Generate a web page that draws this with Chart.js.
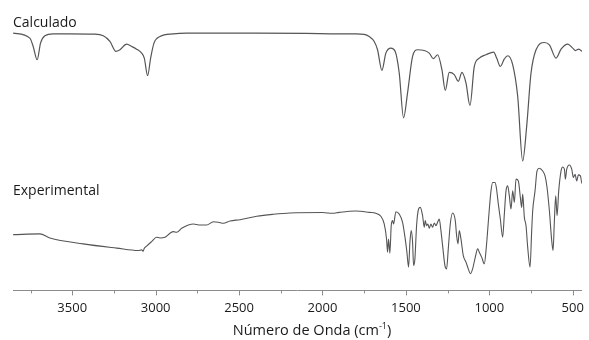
<!DOCTYPE html>
<html>
<head>
<meta charset="utf-8">
<script src="https://cdn.jsdelivr.net/npm/chart.js@4/dist/chart.umd.min.js"></script>
<style>
  html, body { margin: 0; padding: 0; background: #fff; }
  #wrap { width: 589px; height: 340px; position: relative; }
</style>
</head>
<body>
<div id="wrap"><canvas id="myChart"></canvas></div>
<script>
'use strict';

/***** DATA *****/
// wavenumbers (cm-1) and relative transmittance
var calcWave = [3854, 3754, 3734, 3710, 3690, 3664, 3614, 3514, 3374, 3314, 3274, 3238, 3214, 3174, 3144, 3114, 3084, 3068, 3048, 3030, 3010, 2974, 2894, 2814, 2400, 2100, 1900, 1800, 1750, 1720, 1690, 1670, 1644, 1620, 1590, 1564, 1540, 1514, 1490, 1460, 1430, 1360, 1336, 1310, 1284, 1264, 1240, 1210, 1186, 1164, 1140, 1116, 1090, 1060, 1020, 974, 956, 934, 910, 890, 860, 830, 800, 776, 750, 720, 670, 640, 600, 570, 530, 500, 484, 464, 444];
var calcT = [100, 96.1, 89.6, 79.2, 92.2, 97.9, 99.5, 99.5, 99.2, 97.9, 93.5, 85.7, 87.0, 91.4, 89.6, 87.5, 84.4, 80.5, 66.7, 80.5, 92.2, 97.4, 99.5, 100, 100, 99.8, 99.5, 99.5, 99.1, 97.4, 93.5, 87.0, 70.9, 84.4, 88.3, 85.7, 68.8, 33.8, 53.3, 81.8, 87.0, 84.4, 80.0, 83.1, 71.4, 55.3, 69.3, 67.5, 62.3, 69.3, 61.1, 43.4, 74.0, 80.5, 83.1, 85.2, 80.5, 74.0, 79.8, 82.3, 75.3, 50.6, 0, 27.3, 68.8, 87.0, 92.7, 90.9, 80.5, 87.5, 91.4, 88.3, 86.4, 87.5, 85.7];

var expWave = [3854, 3694, 3634, 3434, 3234, 3104, 3084, 3074, 3070, 3054, 3024, 2994, 2974, 2944, 2914, 2894, 2874, 2844, 2804, 2774, 2734, 2694, 2654, 2624, 2594, 2554, 2494, 2394, 2294, 2194, 2000, 1940, 1900, 1800, 1720, 1680, 1650, 1630, 1616, 1610, 1604, 1596, 1588, 1580, 1574, 1560, 1540, 1520, 1504, 1494, 1484, 1476, 1468, 1460, 1454, 1446, 1436, 1424, 1414, 1400, 1390, 1384, 1376, 1368, 1360, 1350, 1340, 1330, 1320, 1310, 1300, 1290, 1280, 1266, 1256, 1246, 1234, 1220, 1204, 1196, 1188, 1180, 1170, 1156, 1140, 1126, 1114, 1100, 1084, 1070, 1060, 1046, 1030, 1018, 1010, 1000, 990, 980, 966, 958, 946, 934, 920, 910, 900, 890, 880, 870, 860, 850, 840, 826, 814, 806, 800, 790, 780, 770, 756, 746, 740, 726, 714, 700, 680, 666, 654, 640, 626, 618, 610, 602, 594, 584, 570, 560, 550, 544, 536, 520, 506, 496, 486, 476, 466, 454, 446];
var expT = [35.7, 36.4, 32.7, 27.3, 23.4, 21.2, 21.8, 20.6, 22.7, 25.2, 29.4, 33.4, 32.7, 33.4, 37.0, 38.5, 37.9, 41.5, 44.5, 45.5, 44.5, 44.5, 47.5, 47.0, 46.1, 48.2, 49.4, 52.5, 54.3, 55.5, 55.9, 55.2, 56.1, 57.3, 56.1, 55.2, 52.5, 45.5, 31.8, 19.7, 31.8, 18.8, 43.9, 48.5, 45.5, 56.6, 54.5, 47.0, 31.8, 19.7, 6.1, 28.8, 39.4, 28.8, 7.5, 13.6, 43.9, 59.1, 60.6, 53.0, 42.5, 48.5, 43.9, 45.5, 41.5, 45.5, 42.5, 46.4, 43.9, 47.0, 50.0, 39.4, 25.7, 7.5, 4.5, 22.7, 45.5, 55.5, 48.5, 34.8, 27.3, 39.4, 31.8, 16.6, 10.6, 4.5, 0, 4.5, 15.2, 22.7, 19.7, 15.2, 9.1, 24.3, 39.4, 59.1, 75.7, 83.4, 83.4, 78.8, 63.6, 50.0, 33.4, 54.5, 75.7, 80.3, 71.2, 59.1, 75.7, 65.2, 86.4, 84.8, 69.7, 60.6, 72.7, 51.5, 43.9, 24.3, 6.1, 39.4, 57.5, 75.7, 93.9, 96.4, 93.9, 89.4, 78.8, 57.5, 30.3, 21.2, 48.5, 71.2, 53.0, 75.7, 93.9, 97.5, 95.5, 86.4, 95.5, 99.4, 95.5, 87.9, 90.9, 84.8, 90.3, 89.4, 82.5];

var xTickLabels = [3500, 3000, 2500, 2000, 1500, 1000, 500];
var panelLabels = ['Calculado', 'Experimental'];
var axisTitle = ['Número de Onda (cm', '-1', ')']; // middle part is superscript

/***** HELPERS *****/
function toPoints (xs, ys) {
   var pts = [];
   for (var i = 0; i < xs.length; i++) {
      pts.push({ x: xs[i], y: ys[i] });
   }
   return pts;
}

var FONT = "'Open Sans', 'DejaVu Sans', sans-serif";

// panel captions, axis title and the ticks (long under labels, short between)
var labelsPlugin = {
   id: 'panelLabels',
   afterDraw: function (chart) {
      var ctx = chart.ctx;
      var area = chart.chartArea;
      var x = chart.scales.x;
      ctx.save();

      ctx.strokeStyle = '#8c8c8c';
      ctx.lineWidth = 1;
      x.ticks.forEach(function (t) {
         var px = Math.round(x.getPixelForValue(t.value)) + 0.5;
         var len = xTickLabels.indexOf(t.value) >= 0 ? 5 : 3;
         ctx.beginPath();
         ctx.moveTo(px, area.bottom);
         ctx.lineTo(px, area.bottom + len);
         ctx.stroke();
      });

      ctx.fillStyle = '#1a1a1a';
      ctx.textBaseline = 'alphabetic';
      ctx.textAlign = 'left';
      ctx.font = '14px ' + FONT;
      ctx.fillText(panelLabels[0], area.left, 27);
      ctx.fillText(panelLabels[1], area.left, 195);

      // axis title with superscript -1
      var big = '14.5px ' + FONT, small = '9px ' + FONT;
      ctx.font = big;
      var w0 = ctx.measureText(axisTitle[0]).width;
      var w2 = ctx.measureText(axisTitle[2]).width;
      ctx.font = small;
      var w1 = ctx.measureText(axisTitle[1]).width;
      var sx = 312 - (w0 + w1 + w2) / 2;
      ctx.font = big;
      ctx.fillText(axisTitle[0], sx, 335);
      ctx.font = small;
      ctx.fillText(axisTitle[1], sx + w0, 329);
      ctx.font = big;
      ctx.fillText(axisTitle[2], sx + w0 + w1, 335);
      ctx.restore();
   }
};

/***** CHART *****/
var ctx = document.getElementById('myChart');
var myChart = new Chart(ctx, {
   type: 'line',
   data: {
      datasets: [
         {
            label: panelLabels[0],
            data: toPoints(calcWave, calcT),
            yAxisID: 'yCalc',
            borderColor: '#555',
            borderWidth: 1.2,
            pointRadius: 0,
            cubicInterpolationMode: 'monotone'
         },
         {
            label: panelLabels[1],
            data: toPoints(expWave, expT),
            yAxisID: 'yExp',
            borderColor: '#555',
            borderWidth: 1.1,
            pointRadius: 0,
            cubicInterpolationMode: 'monotone'
         }
      ]
   },
   options: {
      responsive: true,
      maintainAspectRatio: false,
      animation: false,
      layout: { padding: { left: 13, right: 7, top: 10, bottom: 19 } },
      plugins: {
         legend: { display: false },
         tooltip: { enabled: false }
      },
      scales: {
         x: {
            type: 'linear',
            reverse: true,
            min: 445,
            max: 3855,
            border: { color: '#8c8c8c', width: 1 },
            grid: { display: true, drawOnChartArea: false, drawTicks: true, tickLength: 5, color: 'rgba(0,0,0,0)' },
            ticks: {
               stepSize: 250,
               includeBounds: false,
               maxRotation: 0,
               autoSkip: false,
               padding: 5,
               color: '#1a1a1a',
               font: { family: FONT, size: 13 },
               callback: function (v) {
                  return xTickLabels.indexOf(v) >= 0 ? String(v) : '';
               }
            }
         },
         yCalc: { display: false, min: -101.2, max: 118.1 },
         yExp: { display: false, min: -15.2, max: 240.9 }
      }
   },
   plugins: [labelsPlugin]
});
</script>
</body>
</html>
